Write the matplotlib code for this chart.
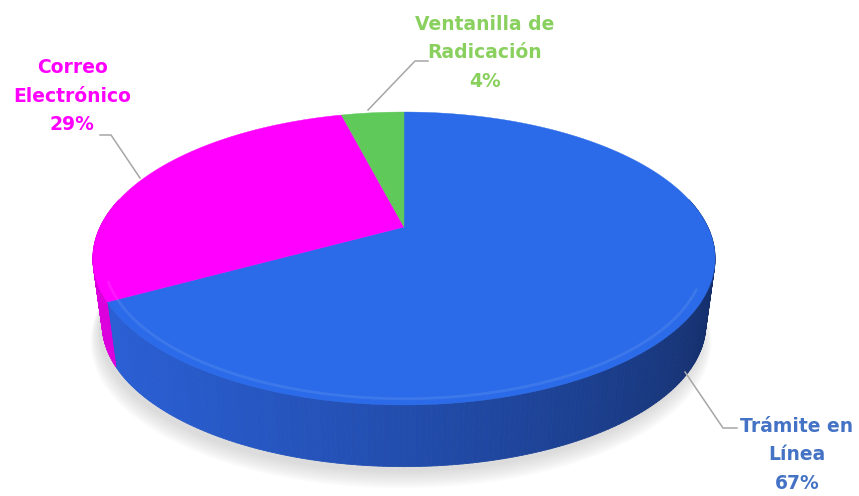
import numpy as np
import matplotlib
matplotlib.use("Agg")
import matplotlib.pyplot as plt
from matplotlib.collections import PolyCollection
from matplotlib.colors import to_rgb

# datos (en sentido horario desde arriba)
labels = ["Trámite en\nLínea", "Correo\nElectrónico", "Ventanilla de\nRadicación"]
values = [67, 29, 4]
top_colors = ["#2b6be9", "#ff00ff", "#5fc95a"]
wall_light = ["#2a5fd4", "#dc00dc", "#4fb04a"]
wall_dark = ["#12295e", "#700070", "#2a6a28"]
text_colors = ["#4472c4", "#ff00ff", "#8ad05e"]

# geometria del pastel en perspectiva (pixeles)
CX, APEX_Y = 404, 227
A, C, K = 303.8, 139.7, 0.215
BOT_SCALE, BOT_APEX = 0.97, 294


def proj(phi, scale=1.0, apex=APEX_Y):
    X, Z = np.cos(phi), np.sin(phi)
    d = 1 + K * Z
    return CX + scale * A * X / d, apex - scale * C * Z / d


def mix(c1, c2, t):
    a, b = np.array(to_rgb(c1)), np.array(to_rgb(c2))
    return tuple(a + (b - a) * t)


fig = plt.figure(figsize=(8.59, 4.96), dpi=100)
ax = fig.add_axes([0, 0, 1, 1])
ax.set_xlim(0, 859)
ax.set_ylim(496, 0)
ax.axis("off")

# sombra
for i in range(8):
    ph = np.linspace(0, 2 * np.pi, 200)
    x, y = proj(ph, BOT_SCALE + 0.004 * i, BOT_APEX + 6 + i * 1.5)
    ax.fill(x - 3, y, color="#808080", alpha=0.035, lw=0, zorder=1)

# angulos a partir de los valores
total = sum(values)
cum = np.cumsum([0] + values) / total
starts = np.pi / 2 - 2 * np.pi * cum[:-1]
ends = np.pi / 2 - 2 * np.pi * cum[1:]

# paredes laterales
polys, cols = [], []
for i in range(len(values)):
    ph = np.linspace(starts[i], ends[i], 300)
    for a0, a1 in zip(ph[:-1], ph[1:]):
        if np.sin((a0 + a1) / 2) > 0.2:
            continue
        xt0, yt0 = proj(a0)
        xt1, yt1 = proj(a1)
        xb0, yb0 = proj(a0, BOT_SCALE, BOT_APEX)
        xb1, yb1 = proj(a1, BOT_SCALE, BOT_APEX)
        polys.append([(xt0, yt0), (xt1, yt1), (xb1, yb1), (xb0, yb0)])
        t = (1 - np.cos((a0 + a1) / 2 - np.deg2rad(-160))) / 2
        cols.append(mix(wall_light[i], wall_dark[i], t))
ax.add_collection(PolyCollection(polys, facecolors=cols, edgecolors=cols,
                                 linewidths=0.6, zorder=2))

# caras superiores
for i in range(len(values)):
    ph = np.linspace(starts[i], ends[i], 300)
    x, y = proj(ph)
    xs = np.concatenate([[CX], x])
    ys = np.concatenate([[APEX_Y], y])
    ax.fill(xs, ys, color=top_colors[i], lw=0.3, ec=top_colors[i], zorder=3)

# brillo del borde (solo frente)
ph = np.linspace(np.deg2rad(-158), np.deg2rad(-25), 200)
for i in range(len(values)):
    m = (ph <= starts[i]) & (ph >= ends[i])
    if m.sum() < 2:
        continue
    x, y = proj(ph[m], 0.965)
    ax.plot(x, y, color=mix(top_colors[i], "#ffffff", 0.2), lw=2.0,
            alpha=0.45, solid_capstyle="round", zorder=4)

# etiquetas
pcts = [f"{round(v / total * 100)}%" for v in values]
label_pos = [(797, 455), (72, 96), (485, 53)]
leaders = [
    [(685, 372), (723, 428), (737, 428)],
    [(140, 178), (111, 135), (100, 135)],
    [(368, 110), (415, 61), (428, 61)],
]
for i in range(len(values)):
    lx, ly = label_pos[i]
    ax.text(lx, ly, f"{labels[i]}\n{pcts[i]}", ha="center", va="center",
            color=text_colors[i], fontsize=13.5, fontweight="bold",
            linespacing=1.62, zorder=6)
    xs, ys = zip(*leaders[i])
    ax.plot(xs, ys, color="#a6a6a6", lw=1.1, zorder=5)

fig.savefig("out.png", dpi=100)
